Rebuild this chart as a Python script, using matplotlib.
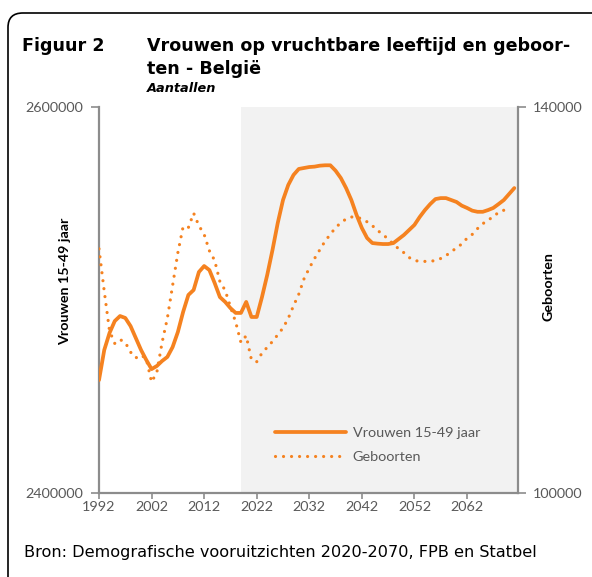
import matplotlib
matplotlib.use("Agg")
import numpy as np
import matplotlib.pyplot as plt
from matplotlib.patches import FancyBboxPatch

# jaren
years_women = list(range(1992, 2072))
years_births = list(range(1992, 2071))

# Vrouwen 15-49 jaar (linkeras)
women = [
    2458500, 2474100, 2482900, 2489100, 2491700, 2490700, 2486500, 2480300,
    2474100, 2468900, 2464200, 2465800, 2468400, 2470500, 2475600, 2483400,
    2493800, 2502600, 2505200, 2514500, 2517600, 2515500, 2508800, 2501500,
    2499000, 2495800, 2493300, 2493300, 2499000, 2491200, 2491200, 2501500,
    2513000, 2525900, 2539900, 2551800, 2559600, 2564800, 2567900, 2568400,
    2568900, 2569100, 2569600, 2569800, 2569800, 2567000, 2563200, 2558000,
    2551800, 2544000, 2537300, 2532100, 2529500, 2529200, 2529000, 2529000,
    2529500, 2531600, 2533700, 2536300, 2538900, 2543000, 2546600, 2549700,
    2552300, 2552800, 2552800, 2551800, 2550800, 2548900, 2547700, 2546300,
    2545700, 2545700, 2546600, 2547700, 2549700, 2551800, 2554900, 2558000,
]

# Geboorten (rechteras)
births = [
    125300, 120900, 116800, 115500, 115900, 115600, 114600, 114000,
    114300, 113900, 111500, 112500, 115600, 118100, 121500, 124900,
    127600, 127500, 129000, 127700, 126800, 125100, 124100, 121900,
    121000, 119300, 117700, 115600, 116300, 113800, 113600, 114500,
    115100, 115700, 116400, 117100, 118100, 119400, 120600, 122200,
    123300, 124300, 125200, 126100, 126800, 127500, 128000, 128400,
    128600, 128600, 128400, 128100, 127700, 127200, 126800, 126300,
    125800, 125300, 124900, 124400, 124100, 124000, 124000, 124000,
    124100, 124300, 124600, 125000, 125400, 125800, 126400, 126800,
    127400, 127900, 128300, 128600, 129100, 129300, 129600,
]

xticks = list(range(1992, 2063, 10))
proj_start = 2019

orange = "#F58220"
grey_txt = "#595959"
grey_axis = "#8C8C8C"
tickfont = "Lato"

fig = plt.figure(figsize=(5.92, 5.77), dpi=100)

# kader met afgeronde hoek
frame = FancyBboxPatch((8 / 592, 1 - 13 / 577 - 1.2), 1.2, 1.2,
                       boxstyle="round,pad=0,rounding_size=0.025",
                       transform=fig.transFigure, fill=False,
                       edgecolor="black", linewidth=1.2)
fig.patches.append(frame)

fig.text(22 / 592, 1 - 46 / 577, "Figuur 2", fontsize=12.6, fontweight="bold",
         family="DejaVu Sans", va="center", ha="left")
fig.text(147 / 592, 1 - 46 / 577, "Vrouwen op vruchtbare leeftijd en geboor-",
         fontsize=12.6, fontweight="bold", family="DejaVu Sans", va="center", ha="left")
fig.text(147 / 592, 1 - 69 / 577, "ten - België", fontsize=12.6, fontweight="bold",
         family="DejaVu Sans", va="center", ha="left")
fig.text(147 / 592, 1 - 89 / 577, "Aantallen", fontsize=9.3, fontweight="bold",
         style="italic", family="DejaVu Sans", va="center", ha="left")
fig.text(24 / 592, 1 - 552 / 577,
         "Bron: Demografische vooruitzichten 2020-2070, FPB en Statbel",
         fontsize=11.6, family="DejaVu Sans", va="center", ha="left")

ax = fig.add_axes([99 / 592, 1 - 493 / 577, 419 / 592, 386 / 577])
ax2 = ax.twinx()

ax.axvspan(proj_start, 2072, color="#F2F2F2", lw=0, zorder=0)
l1, = ax.plot(years_women, women, color=orange, lw=2.7,
              solid_capstyle="round", solid_joinstyle="round", zorder=3)
l2, = ax2.plot(years_births, births, color=orange, lw=2.3,
               linestyle=(0, (0.01, 2.5)), dash_capstyle="round", zorder=3)

ax.set_xlim(1992, 2071.7)
ax.set_ylim(2400000, 2600000)
ax2.set_ylim(100000, 140000)
ax.set_xticks(xticks)
ax.set_yticks([2400000, 2600000])
ax2.set_yticks([100000, 140000])
ax.set_xticklabels([str(x) for x in xticks])
ax.set_yticklabels(["2400000", "2600000"])
ax2.set_yticklabels(["100000", "140000"])

for a in (ax, ax2):
    a.spines["top"].set_visible(False)
    for s in a.spines.values():
        s.set_color(grey_axis)
        s.set_linewidth(1.6)
ax.spines["right"].set_visible(False)
ax2.spines["left"].set_visible(False)
ax2.spines["bottom"].set_visible(False)

ax.tick_params(axis="x", length=4, width=1.2, color=grey_axis, pad=1.5,
               labelsize=10.4, labelcolor=grey_txt)
ax.tick_params(axis="y", length=6, width=1.2, color=grey_axis, pad=5,
               labelsize=10.4, labelcolor=grey_txt)
ax2.tick_params(axis="y", length=6, width=1.2, color=grey_axis, pad=5,
                labelsize=10.4, labelcolor=grey_txt)
for lab in ax.get_xticklabels() + ax.get_yticklabels() + ax2.get_yticklabels():
    lab.set_family(tickfont)

ax.set_ylabel("Vrouwen 15-49 jaar", fontsize=10.3, fontweight="bold",
              family=tickfont)
ax2.set_ylabel("Geboorten", fontsize=10.3, fontweight="bold",
               family=tickfont)
ax.yaxis.set_label_coords(-0.066, 0.549)
ax2.yaxis.set_label_coords(1.058, 0.534)

leg = ax2.legend([l1, l2], ["Vrouwen 15-49 jaar", "Geboorten"],
                 loc="center left", bbox_to_anchor=(0.39, 0.124),
                 frameon=False, handlelength=4.9, handletextpad=0.45,
                 labelspacing=0.85, prop={"family": tickfont, "size": 10.4})
for t in leg.get_texts():
    t.set_color(grey_txt)

fig.savefig("out.png", dpi=100)
